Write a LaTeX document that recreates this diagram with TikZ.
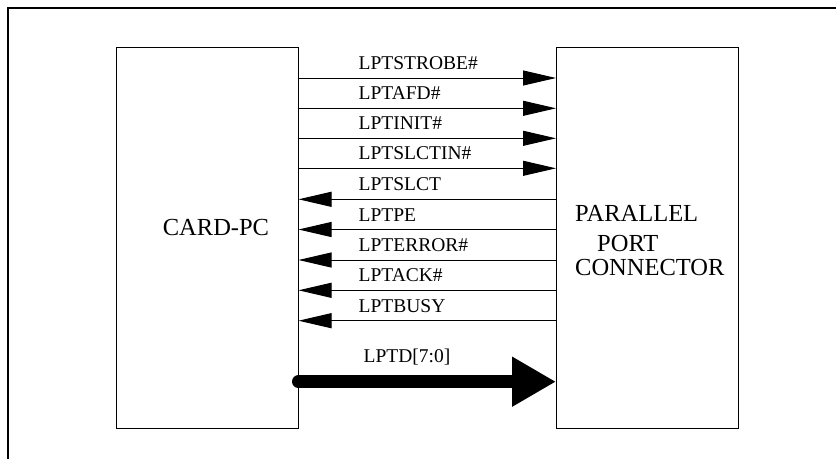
\documentclass[tikz,border=0pt]{standalone}
\usepackage{fontspec}
\setmainfont{Liberation Serif}
\usetikzlibrary{arrows.meta}

\tikzset{
  blockbox/.style={draw, line width=1pt, minimum width=182pt, minimum height=381pt, inner sep=0pt},
  signal/.style={line width=1pt, -{Triangle[length=33pt,width=15pt]}},
  busline/.style={line width=13pt, line cap=round, -{Triangle[length=44pt,width=47pt]}},
  siglabel/.style={anchor=base west, inner sep=0pt, font=\fontsize{19.5}{22}\selectfont},
  bigtext/.style={font=\fontsize{24.5}{27}\selectfont, inner sep=0pt}
}

\begin{document}
\begin{tikzpicture}[x=1pt, y=-1pt]
  \useasboundingbox (0,0) rectangle (836,459);

  % outer frame (only top and left edges visible)
  \draw[line width=2.8pt] (8,459) -- (8,8) -- (836,8);

  % the two blocks
  \node[blockbox] (card) at (207,237.5) {};
  \node[blockbox] (conn) at (647.5,237.5) {};

  \node[bigtext] (cardtxt) at (216,228) {CARD-PC};
  \node[bigtext, anchor=north west, align=left] (conntxt) at (575,205)
    {PARALLEL\\[3pt]\hspace*{22pt}PORT\\[-3pt]CONNECTOR};

  % outputs of the card
  \foreach \y/\txt in {78/LPTSTROBE\#, 108.3/LPTAFD\#, 138.3/LPTINIT\#, 168.3/LPTSLCTIN\#}{
    \draw[signal] (card.east |- 0,\y) -- (conn.west |- 0,\y);
    \node[siglabel] at ([xshift=60pt, yshift=8.5pt]card.east |- 0,\y) {\txt};
  }

  % inputs of the card
  \foreach \y/\txt in {199.3/LPTSLCT, 229.5/LPTPE, 260/LPTERROR\#, 290.3/LPTACK\#, 320.7/LPTBUSY}{
    \draw[signal] (conn.west |- 0,\y) -- (card.east |- 0,\y);
    \node[siglabel] at ([xshift=60pt, yshift=8.5pt]card.east |- 0,\y) {\txt};
  }

  % data bus
  \draw[busline] (card.east |- 0,381.7) -- (conn.west |- 0,381.7);
  \node[siglabel] (buslabel) at ([xshift=65pt, yshift=19pt]card.east |- 0,381.7) {LPTD[7:0]};
\end{tikzpicture}
\end{document}
